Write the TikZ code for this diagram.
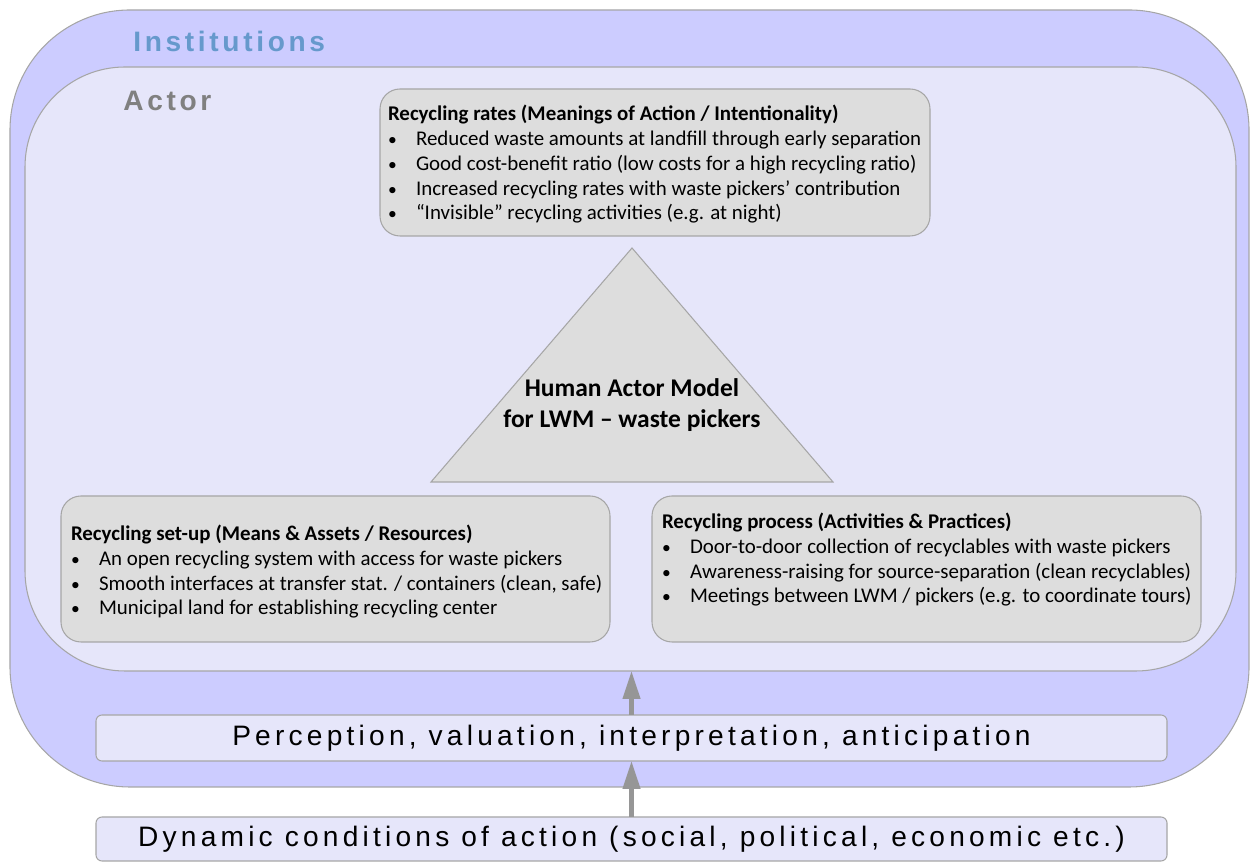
\documentclass[tikz,border=0pt]{standalone}
\usepackage{fontspec}
\setmainfont{Carlito}
\newfontfamily\lblfont[LetterSpace=13]{Liberation Sans}
\newfontfamily\condfont[LetterSpace=15]{Liberation Sans}
\usetikzlibrary{positioning,arrows.meta}
\definecolor{instfill}{HTML}{CCCCFF}
\definecolor{actorfill}{HTML}{E6E6FA}
\definecolor{cardfill}{HTML}{DDDDDD}
\definecolor{edge}{HTML}{A6A6A6}
\definecolor{instblue}{HTML}{6699CC}
\definecolor{actorgrey}{HTML}{808080}
\definecolor{arrowgrey}{HTML}{969696}
\tikzset{
  frame/.style={draw=edge, line width=0.6pt, inner sep=0pt, outer sep=0pt},
  card/.style={frame, fill=cardfill, rounded corners=0.4cm},
  strip/.style={frame, fill=actorfill, rounded corners=0.12cm},
  txt/.style={anchor=text, align=left, inner sep=0pt,
              font=\fontsize{11.9}{14.2}\selectfont},
  ttl/.style={anchor=west, inner sep=0pt, font=\lblfont\bfseries\fontsize{16}{18}\selectfont},
  cond/.style={font=\condfont\fontsize{16}{18}\selectfont},
  up/.style={-{Triangle[length=0.56cm,width=0.34cm]}, line width=2.5pt, draw=arrowgrey},
}
\newcommand\bul{\makebox[0.56cm][l]{{\fontsize{10}{10}\selectfont\textbullet}}}

\begin{document}
\begin{tikzpicture}
  \useasboundingbox (0,0) rectangle (25,17.24);
  % --- nested frames ---
  \node[frame, fill=instfill, rounded corners=2.4cm,
        minimum width=24.78cm, minimum height=15.54cm] (inst) at (12.59,9.27){};
  \node[frame, fill=actorfill, rounded corners=2cm,
        minimum width=24.22cm, minimum height=12.08cm] (actor) at (12.61,9.86){};
  \node[ttl, text=instblue] (instlbl) at (2.66,16.42){Institutions};
  \node[ttl, text=actorgrey] (actorlbl) at (2.46,15.22){Actor};
  % --- intentionality card ---
  \node[card, minimum width=11cm, minimum height=2.94cm] (rates) at (13.1,13.99){};
  \node[txt] (ratestxt) at (7.76,12.84)
    {\textbf{Recycling rates (Meanings of Action / Intentionality)}\\
     \bul Reduced waste amounts at landfill through early separation\\
     \bul Good cost-benefit ratio (low costs for a high recycling ratio)\\
     \bul Increased recycling rates with waste pickers' contribution\\
     \bul “Invisible” recycling activities (e.g. at night)};
  % --- triangle ---
  \draw[draw=edge, line width=0.6pt, fill=cardfill]
    (8.62,7.6) -- (12.64,12.28) -- (16.66,7.6) -- cycle;
  \node[align=center, font=\bfseries\fontsize{14.5}{17.6}\selectfont] (ham) at (12.64,9.13)
    {Human Actor Model\\for LWM – waste pickers};
  % --- resources and practices ---
  \node[card, minimum width=10.98cm, minimum height=2.92cm] (setup) at (6.71,5.86){};
  \node[txt] (setuptxt) at (1.42,4.94)
    {\textbf{Recycling set-up (Means \& Assets / Resources)}\\
     \bul An open recycling system with access for waste pickers\\
     \bul Smooth interfaces at transfer stat. / containers (clean, safe)\\
     \bul Municipal land for establishing recycling center};
  \node[card, minimum width=10.98cm, minimum height=2.92cm] (proc) at (18.53,5.86){};
  \node[txt] (proctxt) at (13.24,5.18)
    {\textbf{Recycling process (Activities \& Practices)}\\
     \bul Door-to-door collection of recyclables with waste pickers\\
     \bul Awareness-raising for source-separation (clean recyclables)\\
     \bul Meetings between LWM / pickers (e.g. to coordinate tours)};
  % --- filters below ---
  \node[strip, cond, minimum width=21.42cm, minimum height=0.92cm] (percep) at (12.63,2.48)
    {Perception, valuation, interpretation, anticipation};
  \node[strip, cond, minimum width=21.42cm, minimum height=0.88cm] (dyn) at (12.63,0.46)
    {Dynamic conditions of action (social, political, economic etc.)};
  \draw[up] (percep.north) -- (percep.north |- actor.south);
  \draw[up] (dyn.north) -- (percep.south);
\end{tikzpicture}
\end{document}
